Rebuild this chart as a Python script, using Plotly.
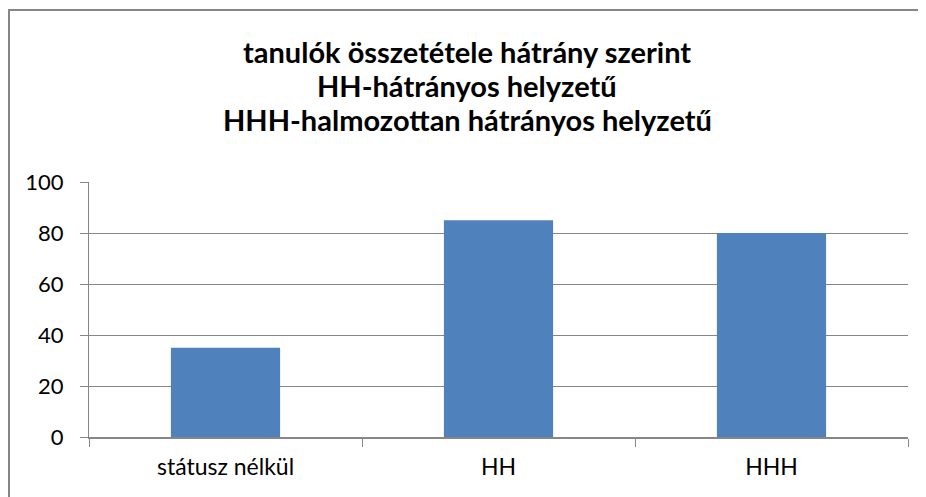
import plotly.graph_objects as go

categories = ["státusz nélkül", "HH", "HHH"]
values = [35, 85, 80]
y_ticks = [0, 20, 40, 60, 80, 100]
title_lines = ["tanulók összetétele hátrány szerint", "HH-hátrányos helyzetű", "HHH-halmozottan hátrányos helyzetű"]

# page body has an 8px margin, so the figure is 8px smaller and offset
W, H = 918, 489
ml, mr, mt, mb = 81, 18, 174, 60
pw, ph = W - ml - mr, H - mt - mb

fig = go.Figure(go.Bar(x=categories, y=values, marker=dict(color="#4F81BD", line=dict(width=0))))

grid = "#868686"
fig.update_layout(
    width=W, height=H,
    margin=dict(l=ml, r=mr, t=mt, b=mb),
    paper_bgcolor="white", plot_bgcolor="white",
    bargap=0.6,
    showlegend=False,
    font=dict(family="Lato, Carlito, Liberation Sans, sans-serif", color="black"),
)
# title lines
centers = [43, 77, 111]
for txt, cy in zip(title_lines, centers):
    fig.add_annotation(text="<b>%s</b>" % txt, xref="paper", yref="paper",
                       x=(W / 2 - ml) / pw,
                       y=(mt + ph - cy) / ph, xanchor="center", yanchor="middle",
                       showarrow=False, font=dict(size=29, color="black"))
fig.update_yaxes(range=[0, 100], tickvals=y_ticks, showgrid=True, gridcolor=grid, gridwidth=1,
                 showline=True, linecolor=grid, linewidth=1, ticks="outside", ticklen=8,
                 tickcolor=grid, tickfont=dict(size=22), zeroline=False, fixedrange=True,
                 ticklabelstandoff=12)
fig.update_xaxes(showline=True, linecolor=grid, linewidth=2, ticks="outside", ticklen=8,
                 tickcolor=grid, tickson="boundaries", tickfont=dict(size=23),
                 showgrid=False, mirror=False, fixedrange=True, ticklabelstandoff=8)
# outer chart border
fig.add_shape(type="rect", xref="paper", yref="paper",
              x0=(1 - ml) / pw, x1=(W + 20 - ml) / pw,
              y0=-(H + 20 - (mt + ph)) / ph, y1=(mt + ph - 2) / ph,
              line=dict(color="#868686", width=2), layer="below")
fig.write_html("out.html")
